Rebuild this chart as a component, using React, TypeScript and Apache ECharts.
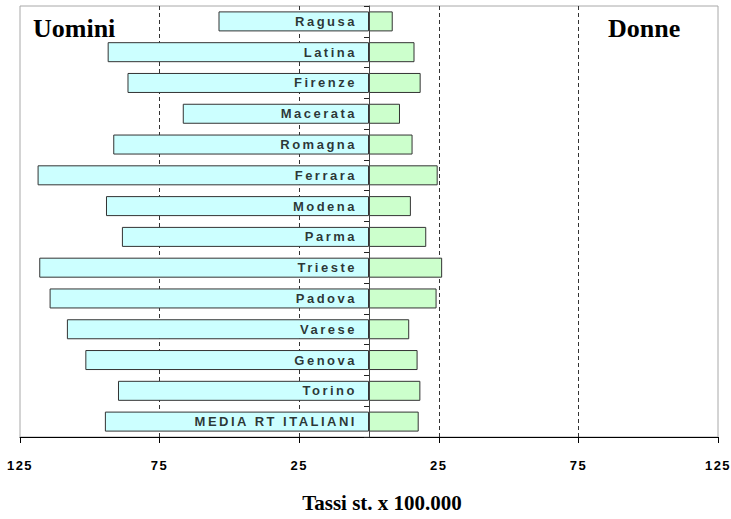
import React, { useEffect, useRef } from "react";
import * as echarts from "echarts";

const categories = [
  "Ragusa", "Latina", "Firenze", "Macerata", "Romagna", "Ferrara", "Modena",
  "Parma", "Trieste", "Padova", "Varese", "Genova", "Torino", "MEDIA RT ITALIANI",
];
const uomini = [53.9, 93.6, 86.5, 66.7, 91.6, 118.7, 94.2, 88.5, 118.1, 114.4, 108.2, 101.6, 89.9, 94.6];
const donne = [8.5, 16.3, 18.5, 11.1, 15.6, 24.6, 15.0, 20.5, 26.2, 24.2, 14.4, 17.4, 18.4, 17.8];
const tickValues = [-125, -75, -25, 25, 75, 125];
const dashedValues = [-75, -25, 25, 75];

export default function App() {
  const ref = useRef<HTMLDivElement>(null);
  useEffect(() => {
    if (!ref.current) return;
    const chart = echarts.init(ref.current, null, { renderer: "svg" });
    chart.setOption({
      animation: false,
      backgroundColor: "#ffffff",
      grid: {
        left: 20,
        right: 13,
        top: 6,
        bottom: 82,
        show: true,
        borderColor: "#a8a8a8",
        borderWidth: 1,
        containLabel: false,
        outerBoundsMode: "none",
      },
      xAxis: {
        type: "value",
        min: -125,
        max: 125,
        interval: 25,
        axisLine: { show: true, onZero: false, lineStyle: { color: "#000", width: 1 } },
        axisTick: {
          show: true,
          customValues: tickValues,
          length: 6,
          lineStyle: { color: "#000", width: 1 },
        },
        axisLabel: {
          customValues: tickValues,
          formatter: (v: number) => String(Math.abs(v)),
          margin: 22,
          fontSize: 13,
          fontWeight: "bold",
          fontFamily: "Liberation Sans",
          color: "#000",
        },
        splitLine: { show: false },
      },
      yAxis: {
        type: "category",
        inverse: true,
        data: categories,
        z: 10,
        axisLine: { show: true, onZero: true, lineStyle: { color: "#444", width: 1 } },
        axisTick: { show: true, length: 5, lineStyle: { color: "#222" } },
        axisLabel: { show: false },
        splitLine: { show: false },
      },
      series: [
        {
          name: "Uomini",
          type: "bar",
          stack: "tot",
          barWidth: 20,
          data: uomini.map((v) => -v),
          itemStyle: { color: "#ccffff", borderColor: "#333", borderWidth: 1 },
          markLine: {
            silent: true,
            symbol: "none",
            label: { show: false },
            lineStyle: { color: "#333", type: [4, 3], width: 1 },
            data: dashedValues.map((v) => ({ xAxis: v })),
            z: 1,
          },
          z: 2,
        },
        {
          name: "Donne",
          type: "bar",
          stack: "tot",
          barWidth: 20,
          data: donne,
          itemStyle: { color: "#ccffcc", borderColor: "#333", borderWidth: 1 },
          z: 2,
        },
        {
          name: "labels",
          type: "scatter",
          symbolSize: 0,
          silent: true,
          z: 10,
          data: categories.map((c) => [0, c]),
          label: {
            show: true,
            position: "left",
            distance: 12,
            formatter: (p: any) => p.value[1],
            fontSize: 13,
            fontWeight: "bold",
            fontFamily: "Arial",
            color: "#000",
            textBorderWidth: 0,
          },
        },
      ],
      graphic: [
        {
          type: "text",
          style: {
            text: "Uomini",
            x: 33,
            y: 28,
            font: 'bold 26px "Times New Roman"',
            fill: "#000",
            align: "left",
            verticalAlign: "middle",
          },
        },
        {
          type: "text",
          style: {
            text: "Donne",
            x: 608,
            y: 28,
            font: 'bold 26px "Times New Roman"',
            fill: "#000",
            align: "left",
            verticalAlign: "middle",
          },
        },
        {
          type: "text",
          style: {
            text: "Tassi st. x 100.000",
            x: 382,
            y: 503,
            font: 'bold 21px "Times New Roman"',
            fill: "#000",
            align: "center",
            verticalAlign: "middle",
          },
        },
      ],
    });
    return () => chart.dispose();
  }, []);
  return (
    <>
      <style>{`.bchart text[style*="Arial"]{letter-spacing:2.5px;} .bchart text[style*="Liberation Sans"]{letter-spacing:1.5px;}`}</style>
      <div
        ref={ref}
        className="bchart"
        style={{ position: "fixed", left: 0, top: 0, width: 731, height: 519 }}
      />
    </>
  );
}
